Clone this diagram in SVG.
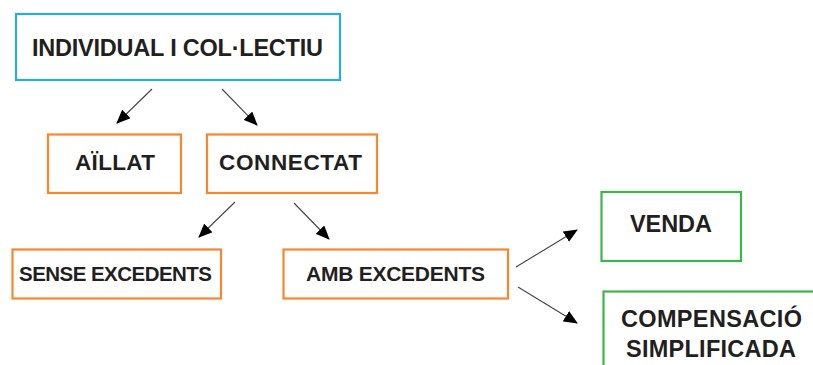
<svg xmlns="http://www.w3.org/2000/svg" width="813" height="365" viewBox="0 0 813 365">
<style>
.box{fill:#fff;stroke-width:2.2}
.blue{stroke:#29abe2}
.orange{stroke:#f7862f}
.green{stroke:#3cb54a}
text{font-family:"Liberation Sans",Arial,sans-serif;font-weight:bold;fill:#231f20}
.conn line{stroke:#444;stroke-width:1.1;marker-end:url(#ah)}
</style>
<defs>
<marker id="ah" markerUnits="userSpaceOnUse" markerWidth="14" markerHeight="12" viewBox="0 0 14 12" refX="13" refY="6" orient="auto">
<path d="M0,0 L14,6 L0,12 Z" fill="#000"/>
</marker>
</defs>
<rect width="813" height="365" fill="#fff"/>
<g id="n-individual"><rect class="box blue" x="16" y="14" width="324" height="66"/><text x="32" y="56" font-size="23.5" textLength="291">INDIVIDUAL I COL·LECTIU</text></g>
<g id="n-aillat"><rect class="box orange" x="48" y="134.5" width="133" height="58.5"/><text x="75" y="170" font-size="22.5" textLength="80">AÏLLAT</text></g>
<g id="n-connectat"><rect class="box orange" x="207" y="134.5" width="170" height="58.5"/><text x="219" y="170" font-size="22.5" textLength="143">CONNECTAT</text></g>
<g id="n-sense"><rect class="box orange" x="12.5" y="249.5" width="208.5" height="49"/><text x="19" y="281" font-size="20.5" textLength="193">SENSE EXCEDENTS</text></g>
<g id="n-amb"><rect class="box orange" x="283.5" y="249.5" width="224.5" height="49"/><text x="306" y="281" font-size="21" textLength="179">AMB EXCEDENTS</text></g>
<g id="n-venda"><rect class="box green" x="601.5" y="192" width="139.5" height="69"/><text x="630" y="232" font-size="23.5" textLength="82">VENDA</text></g>
<g id="n-compensacio"><rect class="box green" x="603.5" y="291.5" width="220" height="90"/><text x="621" y="327" font-size="23.5" textLength="181">COMPENSACIÓ</text><text x="626" y="357" font-size="23.5" textLength="170">SIMPLIFICADA</text></g>
<g id="connectors" class="conn">
<line x1="152" y1="89" x2="117" y2="123"/>
<line x1="222" y1="89" x2="257" y2="125"/>
<line x1="235" y1="202" x2="199" y2="237"/>
<line x1="294" y1="203" x2="329" y2="239"/>
<line x1="516" y1="267" x2="577" y2="230"/>
<line x1="518" y1="287" x2="577" y2="323"/>
</g>
</svg>
